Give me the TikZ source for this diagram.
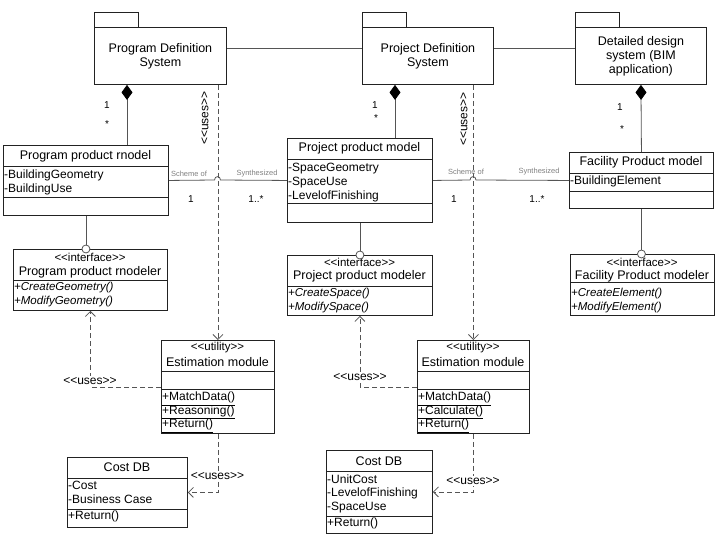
\documentclass[tikz,border=0pt]{standalone}
\usepackage{fontspec}
\setmainfont{Liberation Sans}
\usetikzlibrary{arrows.meta,positioning}

\definecolor{boxc}{HTML}{222222}
\definecolor{linec}{HTML}{555555}
\definecolor{labc}{HTML}{808080}
\newcommand{\sterotext}[1]{<{}<#1>{}>}

\begin{document}
\begin{tikzpicture}[x=1pt,y=-1pt,
  every node/.style={inner sep=0pt},
  box/.style={draw=boxc,line width=.9pt,anchor=north west},
  boxl/.style={draw=boxc,line width=.9pt},
  ttl/.style={font=\fontsize{12.5}{14}\selectfont},
  attr/.style={anchor=north west,align=left,font=\fontsize{12}{14}\selectfont},
  meth/.style={anchor=north west,align=left,font=\fontsize{11.5}{13.5}\selectfont\itshape},
  umeth/.style={anchor=north west,align=left,font=\fontsize{12}{13.5}\selectfont},
  stereo/.style={font=\fontsize{11.5}{13}\selectfont},
  small/.style={font=\fontsize{7.5}{9}\selectfont,text=labc},
  mult/.style={font=\fontsize{10}{12}\selectfont},
  assoc/.style={draw=linec,line width=.8pt},
  dep/.style={draw=linec,line width=.8pt,dash pattern=on 5pt off 3pt,-{Straight Barb[length=5pt,width=10pt]}},
  uselab/.style={fill=white,inner sep=1pt,font=\fontsize{12}{14}\selectfont},
  comp/.style={draw=linec,line width=.8pt,{Diamond[length=15pt,width=11pt,color=black]}-},
  lolli/.style={circle,draw=linec,line width=.8pt,fill=white,minimum size=8pt}]
\useasboundingbox (0,0) rectangle (716,536);

% packages
\node[box,ttl,align=center,minimum width=132pt,minimum height=57pt] (pds) at (94,27) {Program Definition\\System};
\node[box,ttl,align=center,minimum width=131pt,minimum height=57pt] (pjs) at (362,27) {Project Definition\\System};
\node[box,ttl,align=center,minimum width=131pt,minimum height=57pt] (dds) at (575,27) {Detailed design\\system (BIM\\application)};
\draw[boxl] (pds.north west) rectangle ++(44,-15);
\draw[boxl] (pjs.north west) rectangle ++(44,-15);
\draw[boxl] (dds.north west) rectangle ++(44,-15);
\draw[assoc] ([yshift=7.5pt]pds.east) -- ([yshift=7.5pt]pjs.west);
\draw[assoc] ([yshift=7.5pt]pjs.east) -- ([yshift=7.5pt]dds.west);

% product models
\node[box,minimum width=165pt,minimum height=70pt] (ppm) at (3,145) {};
\draw[boxl] (3,166) -- (168,166) (3,197) -- (168,197);
\node[ttl] (ppm-t) at (85.5,156) {Program product rnodel};
\node[attr] (ppm-a) at (4,169.5) {-BuildingGeometry\\-BuildingUse};

\node[box,minimum width=145pt,minimum height=84pt] (pjm) at (287,138) {};
\draw[boxl] (287,159) -- (432,159) (287,203) -- (432,203);
\node[ttl] (pjm-t) at (359.5,148.5) {Project product model};
\node[attr] (pjm-a) at (288,162.5) {-SpaceGeometry\\-SpaceUse\\-LevelofFinishing};

\node[box,minimum width=144pt,minimum height=56pt] (fpm) at (569,152) {};
\draw[boxl] (569,173) -- (713,173) (569,191) -- (713,191);
\node[ttl] (fpm-t) at (641,162.5) {Facility Product model};
\node[attr] (fpm-a) at (570,176) {-BuildingElement};

% modelers
\node[box,minimum width=154pt,minimum height=61pt] (pim) at (13,249) {};
\draw[boxl] (13,280) -- (167,280);
\node[stereo] (pim-s) at (90,257) {\sterotext{interface}};
\node[ttl] (pim-t) at (90,272) {Program product rnodeler};
\node[meth] (pim-m) at (14,282) {+CreateGeometry()\\+ModifyGeometry()};

\node[box,minimum width=145pt,minimum height=60pt] (pjim) at (287,255) {};
\draw[boxl] (287,286) -- (432,286);
\node[stereo] (pjim-s) at (359.5,262) {\sterotext{interface}};
\node[ttl] (pjim-t) at (359.5,276) {Project product modeler};
\node[meth] (pjim-m) at (288,288) {+CreateSpace()\\+ModifySpace()};

\node[box,minimum width=144pt,minimum height=61pt] (fim) at (570,254) {};
\draw[boxl] (570,282) -- (714,282);
\node[stereo] (fim-s) at (642,262) {\sterotext{interface}};
\node[ttl] (fim-t) at (642,276) {Facility Product modeler};
\node[meth] (fim-m) at (571,288) {+CreateElement()\\+ModifyElement()};

% estimation modules
\node[box,minimum width=113pt,minimum height=93pt] (em1) at (161,340) {};
\draw[boxl] (161,371) -- (274,371) (161,389) -- (274,389);
\node[stereo] (em1-s) at (217.5,348) {\sterotext{utility}};
\node[ttl] (em1-t) at (217.5,362) {Estimation module};
\node[umeth] (em1-m) at (162,392) {\underline{+MatchData()}\\\underline{+Reasoning()}\\\underline{+Return()}};

\node[box,minimum width=112pt,minimum height=93pt] (em2) at (417,340) {};
\draw[boxl] (417,371) -- (529,371) (417,389) -- (529,389);
\node[stereo] (em2-s) at (473,348) {\sterotext{utility}};
\node[ttl] (em2-t) at (473,362) {Estimation module};
\node[umeth] (em2-m) at (418,392) {\underline{+MatchData()}\\\underline{+Calculate()}\\\underline{+Return()}};

% cost databases
\node[box,minimum width=120pt,minimum height=70pt] (cdb1) at (67,457) {};
\draw[boxl] (67,478) -- (187,478) (67,509) -- (187,509);
\node[ttl] (cdb1-t) at (127,467) {Cost DB};
\node[attr] (cdb1-a) at (68,480.5) {-Cost\\-Business Case};
\node[attr] (cdb1-m) at (68,511) {+Return()};

\node[box,minimum width=106pt,minimum height=83pt] (cdb2) at (326,450) {};
\draw[boxl] (326,471) -- (432,471) (326,516) -- (432,516);
\node[ttl] (cdb2-t) at (379,461) {Cost DB};
\node[attr,font=\fontsize{12}{13.5}\selectfont] (cdb2-a) at (327,474.5) {-UnitCost\\-LevelofFinishing\\-SpaceUse};
\node[attr] (cdb2-m) at (327,518) {+Return()};

% composition
\coordinate (c1) at ([xshift=33pt]pds.south west);
\coordinate (c2) at ([xshift=33pt]pjs.south west);
\draw[comp] (c1) -- (c1 |- ppm.north);
\draw[comp] (c2) -- (c2 |- pjm.north);
\draw[comp] (dds.south) -- (fpm.north);
\node[mult] (m1a) at (107,105) {1};
\node[mult] (m1b) at (107,124) {*};
\node[mult] (m2a) at (375,105) {1};
\node[mult] (m2b) at (376,118) {*};
\node[mult] (m3a) at (620,107) {1};
\node[mult] (m3b) at (622,129) {*};

% interfaces
\node[lolli] (lp1) at (ppm.south |- pim.north) {};
\node[lolli] (lp2) at (pjm.south |- pjim.north) {};
\node[lolli] (lp3) at (fpm.south |- fim.north) {};
\draw[assoc] (ppm.south) -- (lp1);
\draw[assoc] (pjm.south) -- (lp2);
\draw[assoc] (fpm.south) -- (lp3);

% uses from the systems
\draw[dep] (em1.north |- pds.south) -- (em1.north);
\draw[dep] (em2.north |- pjs.south) -- (em2.north);
\node[rotate=90,font=\fontsize{12}{14}\selectfont] (u1) at (205,118) {\sterotext{uses}};
\node[rotate=90,font=\fontsize{12}{14}\selectfont] (u2) at (464,119) {\sterotext{uses}};

% associations
\draw[assoc] (ppm.east) -- (214.5,180) .. controls (214.5,175.5) and (220.5,175.5) .. (220.5,180) -- (pjm.west);
\draw[assoc] (pjm.east) -- (470,180) .. controls (470,175.5) and (476,175.5) .. (476,180) -- (fpm.west);
\node[small] (s1) at (189,174) {Scheme of};
\node[small] (y1) at (257,174) {Synthesized};
\node[small] (s2) at (466,172) {Scheme of};
\node[small] (y2) at (539,172) {Synthesized};
\node[mult] (a1) at (191,199) {1};
\node[mult] (b1) at (256,199) {1..*};
\node[mult] (a2) at (454,199) {1};
\node[mult] (b2) at (537,199) {1..*};

% uses from the estimation modules
\draw[dep] (em1.west) -| (pim.south);
\draw[dep] (em2.west) -| (pjim.south);
\draw[dep] (em1.south) |- (cdb1.east);
\draw[dep] (em2.south) |- (cdb2.east);
\node[uselab] (u3) at (90,381) {\sterotext{uses}};
\node[uselab] (u4) at (360,377) {\sterotext{uses}};
\node[uselab] (u5) at (217.5,476) {\sterotext{uses}};
\node[uselab] (u6) at (473,481) {\sterotext{uses}};
\end{tikzpicture}
\end{document}
